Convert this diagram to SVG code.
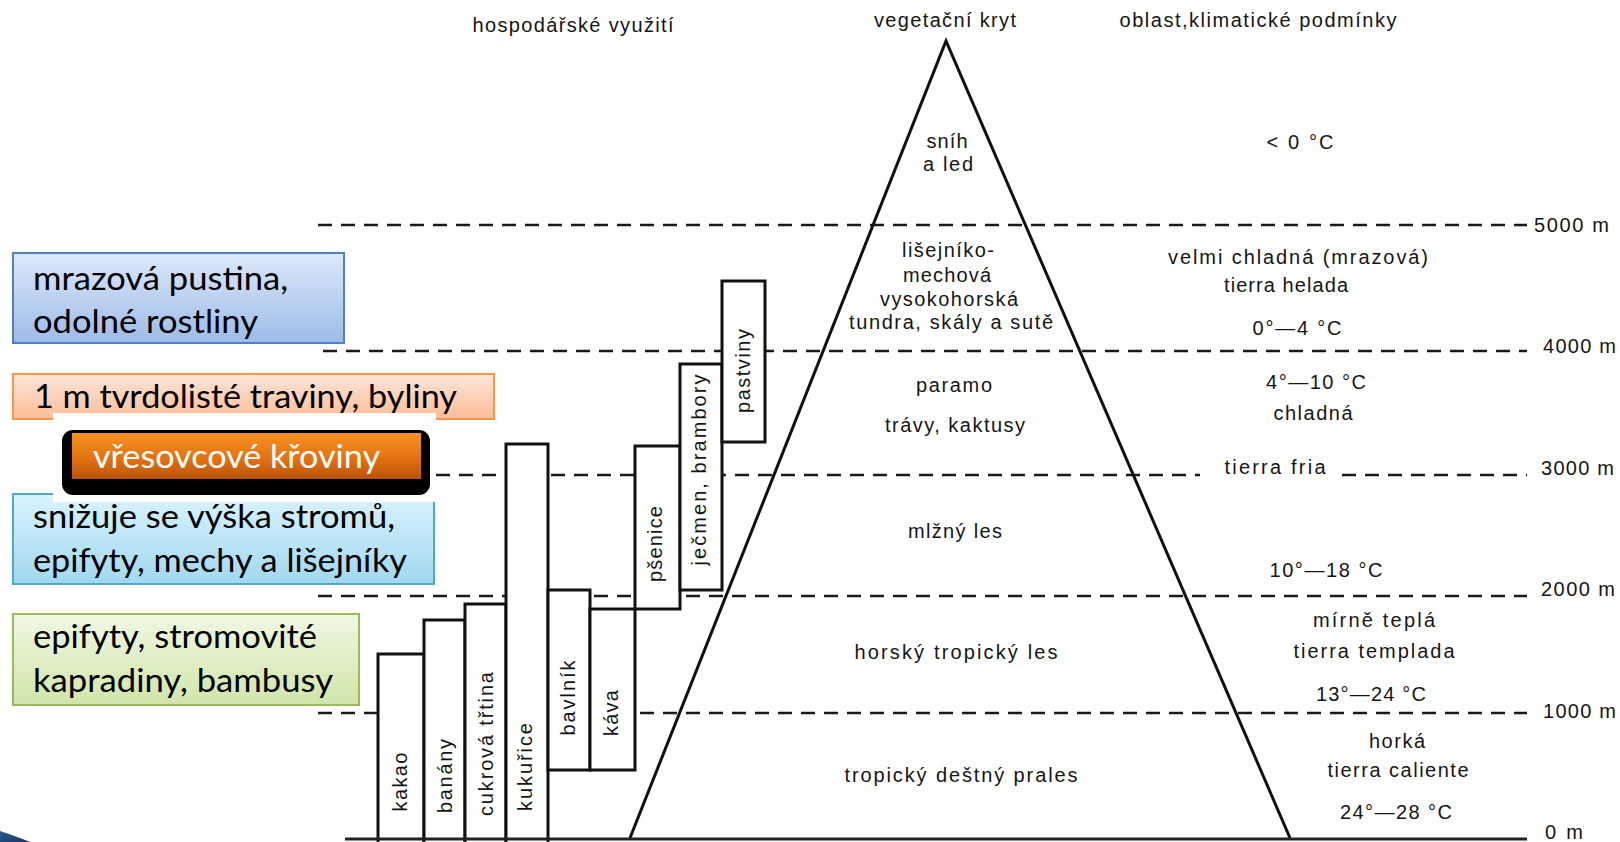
<svg xmlns="http://www.w3.org/2000/svg" width="1620" height="842" viewBox="0 0 1620 842">
<defs>
<linearGradient id="gBlue" x1="0" y1="0" x2="0" y2="1"><stop offset="0" stop-color="#dde8fa"/><stop offset="1" stop-color="#9dbbe7"/></linearGradient>
<linearGradient id="gPeach" x1="0" y1="0" x2="0" y2="1"><stop offset="0" stop-color="#fde6da"/><stop offset="1" stop-color="#fbbd96"/></linearGradient>
<linearGradient id="gCyan" x1="0" y1="0" x2="0" y2="1"><stop offset="0" stop-color="#daf3fd"/><stop offset="1" stop-color="#a0d8ef"/></linearGradient>
<linearGradient id="gGreen" x1="0" y1="0" x2="0" y2="1"><stop offset="0" stop-color="#eff8e3"/><stop offset="1" stop-color="#cfe6a9"/></linearGradient>
<linearGradient id="gOrange" x1="0" y1="0" x2="0" y2="1"><stop offset="0" stop-color="#f8921f"/><stop offset="0.6" stop-color="#e06f12"/><stop offset="1" stop-color="#b9520b"/></linearGradient>
<linearGradient id="gNavy" x1="0" y1="0" x2="1" y2="1"><stop offset="0" stop-color="#2c5a94"/><stop offset="1" stop-color="#17365f"/></linearGradient>
</defs>
<style>
.scan{font-family:"Liberation Sans",Arial,sans-serif;font-size:20px;fill:#151515}
.mid{text-anchor:middle}
.lbl{font-family:Lato,"Open Sans",sans-serif;font-size:33px;fill:#000}
.dash{stroke:#1a1a1a;stroke-width:2.6;stroke-dasharray:14 9;fill:none}
.crop{fill:#fff;stroke:#111;stroke-width:3}
.pyr{fill:none;stroke:#111;stroke-width:3}
</style>
<rect width="1620" height="842" fill="#fff"/>

<g id="connectors">
<line class="dash" x1="318" y1="225" x2="1527" y2="225"/>
<line class="dash" x1="323" y1="351" x2="1527" y2="351"/>
<line class="dash" x1="436" y1="475" x2="1200" y2="475"/>
<line class="dash" x1="1342" y1="475" x2="1527" y2="475"/>
<line class="dash" x1="318" y1="596" x2="1527" y2="596"/>
<line class="dash" x1="318" y1="713" x2="1527" y2="713"/>
</g>

<g id="pyramid">
<polyline class="pyr" points="630,838 946,41 1290,838"/>
</g>

<g id="crops">
<g id="kakao"><rect class="crop" x="378" y="654" width="46" height="200"/><text class="scan mid" transform="translate(407,782) rotate(-90)" textLength="59" lengthAdjust="spacing">kakao</text></g>
<g id="banany"><rect class="crop" x="424" y="620" width="41" height="234"/><text class="scan mid" transform="translate(452,776) rotate(-90)" textLength="74" lengthAdjust="spacing">banány</text></g>
<g id="cukrova"><rect class="crop" x="465" y="604" width="41" height="250"/><text class="scan mid" transform="translate(493,744) rotate(-90)" textLength="144" lengthAdjust="spacing">cukrová třtina</text></g>
<g id="kukurice"><rect class="crop" x="506" y="444" width="42" height="410"/><text class="scan mid" transform="translate(532,767) rotate(-90)" textLength="88" lengthAdjust="spacing">kukuřice</text></g>
<g id="bavlnik"><rect class="crop" x="548" y="590" width="42" height="180"/><text class="scan mid" transform="translate(575,698) rotate(-90)" textLength="75" lengthAdjust="spacing">bavlník</text></g>
<g id="kava"><rect class="crop" x="590" y="609" width="45" height="161"/><text class="scan mid" transform="translate(618,713) rotate(-90)" textLength="46" lengthAdjust="spacing">káva</text></g>
<g id="psenice"><rect class="crop" x="635" y="446" width="45" height="163"/><text class="scan mid" transform="translate(662,544) rotate(-90)" textLength="76" lengthAdjust="spacing">pšenice</text></g>
<g id="jecmen"><rect class="crop" x="680" y="364" width="42" height="226"/><text class="scan mid" transform="translate(706,470) rotate(-90)" textLength="191" lengthAdjust="spacing">ječmen, brambory</text></g>
<g id="pastviny"><rect class="crop" x="722" y="281" width="43" height="161"/><text class="scan mid" transform="translate(750,371) rotate(-90)" textLength="84" lengthAdjust="spacing">pastviny</text></g>
</g>

<g id="baseline">
<line x1="345" y1="839" x2="1527" y2="839" stroke="#222" stroke-width="3"/>
</g>

<g id="headers">
<text class="scan mid" x="573" y="32" textLength="201" lengthAdjust="spacing">hospodářské využití</text>
<text class="scan mid" x="945" y="27" textLength="142" lengthAdjust="spacing">vegetační kryt</text>
<text class="scan mid" x="1258" y="27" textLength="277" lengthAdjust="spacing">oblast,klimatické podmínky</text>
</g>

<g id="vegetation">
<text class="scan mid" x="947" y="148" textLength="41" lengthAdjust="spacing">sníh</text>
<text class="scan mid" x="948" y="171" textLength="50" lengthAdjust="spacing">a led</text>
<text class="scan mid" x="948" y="257" textLength="92" lengthAdjust="spacing">lišejníko-</text>
<text class="scan mid" x="947" y="282" textLength="88" lengthAdjust="spacing">mechová</text>
<text class="scan mid" x="949" y="306" textLength="138" lengthAdjust="spacing">vysokohorská</text>
<text class="scan mid" x="951" y="329" textLength="204" lengthAdjust="spacing">tundra, skály a sutě</text>
<text class="scan mid" x="954" y="392" textLength="76" lengthAdjust="spacing">paramo</text>
<text class="scan mid" x="955" y="432" textLength="140" lengthAdjust="spacing">trávy, kaktusy</text>
<text class="scan mid" x="955" y="538" textLength="94" lengthAdjust="spacing">mlžný les</text>
<text class="scan mid" x="956" y="659" textLength="203" lengthAdjust="spacing">horský tropický les</text>
<text class="scan mid" x="961" y="782" textLength="233" lengthAdjust="spacing">tropický deštný prales</text>
</g>

<g id="climate">
<text class="scan mid" x="1300" y="149" textLength="67" lengthAdjust="spacing">&lt; 0 °C</text>
<text class="scan mid" x="1298" y="264" textLength="260" lengthAdjust="spacing">velmi chladná (mrazová)</text>
<text class="scan mid" x="1286" y="292" textLength="124" lengthAdjust="spacing">tierra helada</text>
<text class="scan mid" x="1297" y="335" textLength="89" lengthAdjust="spacing">0°—4 °C</text>
<text class="scan mid" x="1316" y="389" textLength="100" lengthAdjust="spacing">4°—10 °C</text>
<text class="scan mid" x="1313" y="420" textLength="79" lengthAdjust="spacing">chladná</text>
<text class="scan mid" x="1275" y="474" textLength="101" lengthAdjust="spacing">tierra  fria</text>
<text class="scan mid" x="1326" y="577" textLength="113" lengthAdjust="spacing">10°—18 °C</text>
<text class="scan mid" x="1374" y="627" textLength="122" lengthAdjust="spacing">mírně  teplá</text>
<text class="scan mid" x="1374" y="658" textLength="161" lengthAdjust="spacing">tierra  templada</text>
<text class="scan mid" x="1371" y="701" textLength="110" lengthAdjust="spacing">13°—24 °C</text>
<text class="scan mid" x="1397" y="748" textLength="56" lengthAdjust="spacing">horká</text>
<text class="scan mid" x="1398" y="777" textLength="141" lengthAdjust="spacing">tierra caliente</text>
<text class="scan mid" x="1396" y="819" textLength="112" lengthAdjust="spacing">24°—28 °C</text>
</g>

<g id="altitudes">
<text class="scan" x="1534" y="232" textLength="75" lengthAdjust="spacing">5000 m</text>
<text class="scan" x="1543" y="353" textLength="73" lengthAdjust="spacing">4000 m</text>
<text class="scan" x="1541" y="475" textLength="73" lengthAdjust="spacing">3000 m</text>
<text class="scan" x="1541" y="596" textLength="74" lengthAdjust="spacing">2000 m</text>
<text class="scan" x="1543" y="718" textLength="73" lengthAdjust="spacing">1000 m</text>
<text class="scan" x="1545" y="839" textLength="38" lengthAdjust="spacing">0 m</text>
</g>

<g id="box-mrazova">
<rect x="13" y="253" width="331" height="90" fill="url(#gBlue)" stroke="#4f81bd" stroke-width="2"/>
<text class="lbl" x="33" y="290" textLength="255" lengthAdjust="spacingAndGlyphs">mrazová pustina,</text>
<text class="lbl" x="33" y="333" textLength="225" lengthAdjust="spacingAndGlyphs">odolné rostliny</text>
</g>

<g id="box-traviny">
<rect x="13" y="374" width="481" height="45" fill="url(#gPeach)" stroke="#f79646" stroke-width="2"/>
<text class="lbl" x="34" y="408" textLength="423" lengthAdjust="spacingAndGlyphs">1 m tvrdolisté traviny, byliny</text>
</g>

<g id="box-stromy">
<rect x="13" y="494" width="421" height="90" fill="url(#gCyan)" stroke="#4bacc6" stroke-width="2"/>
</g>

<g id="box-kroviny">
<rect x="53" y="413" width="383" height="89" fill="#fff"/>
<rect x="62" y="430" width="368" height="65" rx="11" fill="#000"/>
<rect x="72" y="433" width="349" height="46" fill="url(#gOrange)"/>
<text class="lbl" x="93" y="468" textLength="287" lengthAdjust="spacingAndGlyphs" style="fill:#fff">vřesovcové křoviny</text>
</g>

<g id="box-stromy-text">
<text class="lbl" x="33" y="528" textLength="362" lengthAdjust="spacingAndGlyphs">snižuje se výška stromů,</text>
<text class="lbl" x="33" y="572" textLength="374" lengthAdjust="spacingAndGlyphs">epifyty, mechy a lišejníky</text>
</g>

<g id="box-epifyty">
<rect x="13" y="614" width="346" height="91" fill="url(#gGreen)" stroke="#9bbb59" stroke-width="2"/>
<text class="lbl" x="33" y="648" textLength="284" lengthAdjust="spacingAndGlyphs">epifyty, stromovité</text>
<text class="lbl" x="33" y="692" textLength="300" lengthAdjust="spacingAndGlyphs">kapradiny, bambusy</text>
</g>

<path d="M0,831 C10,834 20,838 30,842 L0,842 Z" fill="url(#gNavy)"/>
</svg>
